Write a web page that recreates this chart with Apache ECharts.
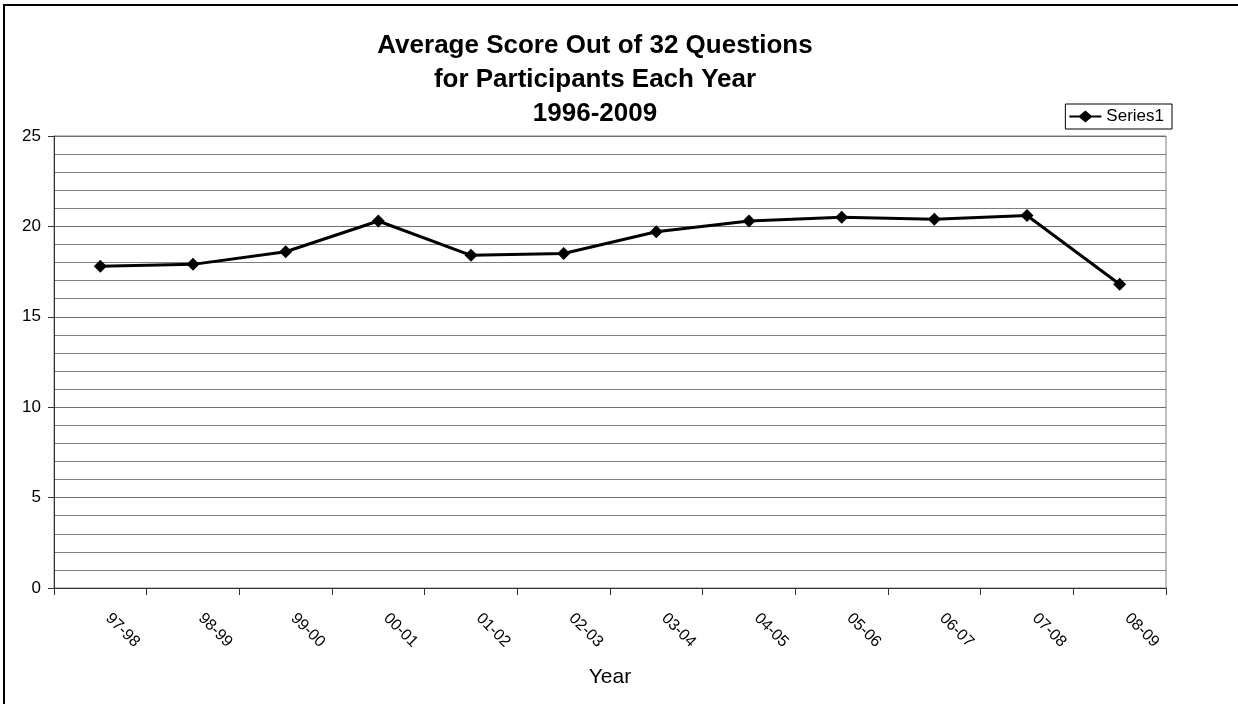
<!DOCTYPE html>
<html>
<head>
<meta charset="utf-8">
<script src="https://cdn.jsdelivr.net/npm/echarts@6/dist/echarts.min.js"></script>
<style>html,body{margin:0;padding:0;background:#fff}#c{width:1238px;height:704px}</style>
</head>
<body>
<div id="c"></div>
<script>
const categories = ['97-98','98-99','99-00','00-01','01-02','02-03','03-04','04-05','05-06','06-07','07-08','08-09'];
const series1 = [17.8, 17.9, 18.6, 20.3, 18.4, 18.5, 19.7, 20.3, 20.5, 20.4, 20.6, 16.8];
const titleLines = ['Average Score Out of 32 Questions', 'for Participants Each Year', '1996-2009'];
const seriesName = 'Series1';
const xName = 'Year';

const chart = echarts.init(document.getElementById('c'), null, {renderer: 'canvas'});
const font = '"Liberation Sans", Arial, sans-serif';
chart.setOption({
  animation: false,
  backgroundColor: '#fff',
  textStyle: {fontFamily: font},
  title: {
    text: titleLines.join('\n'),
    left: 590, textAlign: 'center', top: 24,
    textStyle: {fontSize: 26, fontWeight: 'bold', color: '#000', lineHeight: 34, fontFamily: font}
  },
  legend: {
    right: 66, top: 104,
    orient: 'horizontal',
    padding: [4, 8, 4, 4],
    borderColor: '#000', borderWidth: 1,
    itemWidth: 32, itemHeight: 12, itemGap: 4,
    textStyle: {fontSize: 17, color: '#000', fontFamily: font},
    data: [{name: seriesName, icon: 'path://M0,5 L10,5 L16,0 L22,5 L32,5 L32,7 L22,7 L16,12 L10,7 L0,7 Z'}]
  },
  grid: {
    left: 54, right: 72, top: 136, bottom: 116,
    show: true, borderColor: '#808080', borderWidth: 1, containLabel: false
  },
  xAxis: {
    type: 'category', data: categories, boundaryGap: true,
    name: xName, nameLocation: 'middle', nameGap: 79,
    nameTextStyle: {fontSize: 21, color: '#000', fontFamily: font},
    axisLine: {lineStyle: {color: '#333', width: 1}},
    axisTick: {show: true, length: 7, lineStyle: {color: '#333'}},
    axisLabel: {rotate: -45, fontSize: 16, color: '#000', margin: 20, padding: [0, 0, 0, 11], fontFamily: font},
    splitLine: {show: false}
  },
  yAxis: {
    type: 'value', min: 0, max: 25, interval: 5,
    axisLine: {show: true, lineStyle: {color: '#333', width: 1}},
    axisTick: {show: true, length: 6, lineStyle: {color: '#333'}},
    axisLabel: {fontSize: 17, color: '#000', margin: 13, fontFamily: font},
    splitLine: {show: true, lineStyle: {color: '#6e6e6e', width: 1}},
    minorTick: {show: false, splitNumber: 5},
    minorSplitLine: {show: true, lineStyle: {color: '#808080', width: 1}}
  },
  series: [{
    name: seriesName, type: 'line', data: series1,
    symbol: 'diamond', symbolSize: 13,
    lineStyle: {color: '#000', width: 3},
    itemStyle: {color: '#000'}
  }],
  graphic: [{
    type: 'rect', silent: true, z: 100,
    shape: {x: 4, y: 5, width: 1300, height: 800},
    style: {fill: 'none', stroke: '#000', lineWidth: 2}
  }]
});
</script>
</body>
</html>
